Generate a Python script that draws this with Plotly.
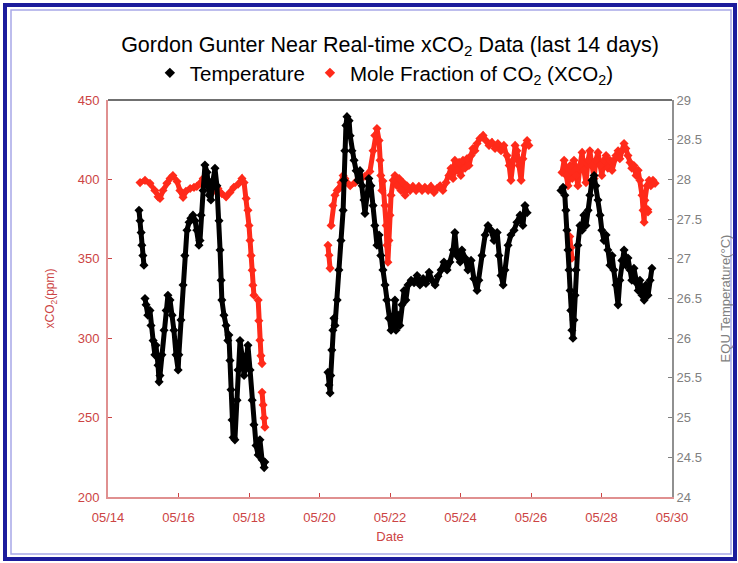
import plotly.graph_objects as go
from datetime import datetime, timedelta

# ---------------- data (day of May, fractional) ----------------
temp_day = [
    14.88, 14.91, 14.94, 14.96, 14.99, 15.02, None,
    15.05, 15.08, 15.13, 15.19, 15.22, 15.28, 15.33, 15.36, 15.42, 15.45, 15.475, 15.53, 15.59, 15.65,
    15.70, 15.76, 15.82, 15.87, 15.93, 15.99, 16.01, 16.07, 16.13, 16.18, 16.24, 16.30, 16.35, 16.41,
    16.47, 16.52, 16.58, 16.61, 16.64, 16.70, 16.75, 16.81, 16.87, 16.92, 16.98, 17.035, 17.09, 17.15,
    17.18, 17.21, 17.23, 17.29, 17.35, 17.40, 17.43, 17.46, 17.49, 17.52, 17.55, 17.60, 17.66, 17.69,
    17.745, 17.80, 17.86, 17.92, 17.97, 18.03, 18.09, 18.14, 18.20, 18.26, 18.31, 18.37, 18.43, 18.45, None,
    20.24, 20.27, 20.30, 20.32, 20.35, 20.38, 20.41, 20.44, 20.50, 20.55, 20.61, 20.67, 20.69, 20.72,
    20.75, 20.78, 20.84, 20.87, 20.92, 20.98, 21.04, 21.09, 21.15, 21.21, 21.26, 21.29, 21.35, 21.40,
    21.46, 21.52, 21.57, 21.63, 21.69, 21.74, 21.80, 21.86, 21.91, 21.97, 22.03, 22.09, 22.14, 22.17,
    22.23, 22.28, 22.34, 22.40, 22.45, 22.51, 22.60, 22.68, 22.77, 22.85, 22.94, 23.02, 23.11, 23.19,
    23.28, 23.36, 23.45, 23.53, 23.62, 23.70, 23.79, 23.84, 23.90, 23.99, 24.04, 24.13, 24.21, 24.30,
    24.38, 24.47, 24.52, 24.61, 24.70, 24.78, 24.87, 24.95, 25.04, 25.09, 25.15, 25.21, 25.26, 25.35,
    25.43, 25.52, 25.60, 25.69, 25.77, 25.83, 25.89, None,
    26.85, 26.91, 26.96, 26.99, 27.02, 27.05, 27.08, 27.11, 27.13, 27.16, 27.19, 27.22, 27.25, 27.28,
    27.33, 27.39, 27.45, 27.50, 27.56, 27.62, 27.67, 27.73, 27.79, 27.84, 27.90, 27.96, 28.01, 28.07,
    28.13, 28.18, 28.24, 28.30, 28.35, 28.41, 28.47, 28.52, 28.58, 28.64, 28.69, 28.75, 28.81, 28.86,
    28.92, 28.98, 29.04, 29.09, 29.15, 29.21, 29.26, 29.32, 29.38, 29.43,
]
temp_val = [
    27.61, 27.48, 27.33, 27.17, 27.04, 26.92, None,
    26.50, 26.42, 26.29, 26.35, 26.16, 25.97, 25.79, 25.91, 25.66, 25.45, 25.53, 25.79, 26.10, 26.35,
    26.54, 26.48, 26.29, 26.10, 25.79, 25.60, 25.79, 26.23, 26.67, 27.04, 27.36, 27.46, 27.51, 27.55,
    27.48, 27.36, 27.17, 27.23, 27.55, 27.86, 28.18, 28.09, 27.80, 27.74, 27.99, 28.14, 27.92, 27.48,
    27.11, 26.73, 26.48, 26.29, 26.16, 25.97, 26.04, 25.72, 25.35, 24.97, 24.75, 24.72, 25.22, 25.60,
    25.97, 25.79, 25.53, 25.72, 25.91, 25.60, 25.22, 24.91, 24.65, 24.53, 24.72, 24.47, 24.37, 24.44, None,
    25.57, 25.41, 25.31, 25.53, 25.85, 26.10, 26.25, 26.16, 26.48, 26.86, 27.23, 27.61, 27.99, 28.36,
    28.68, 28.79, 28.74, 28.55, 28.36, 28.24, 28.11, 27.99, 28.11, 27.92, 27.74, 27.57, 27.80, 28.01,
    27.92, 27.67, 27.42, 27.17, 27.30, 27.04, 26.86, 26.67, 26.48, 26.25, 26.10, 26.20, 26.48, 26.10,
    26.29, 26.16, 26.42, 26.60, 26.48, 26.67, 26.73, 26.70, 26.79, 26.67, 26.75, 26.69, 26.83, 26.73,
    26.67, 26.78, 26.86, 26.96, 26.86, 26.96, 27.11, 27.33, 27.04, 26.96, 27.11, 27.01, 26.86, 26.98,
    26.75, 26.60, 26.73, 27.04, 27.30, 27.42, 27.36, 27.23, 27.33, 27.04, 26.79, 26.67, 26.86, 27.17,
    27.30, 27.36, 27.46, 27.55, 27.42, 27.67, 27.58, None,
    27.86, 27.90, 27.80, 27.61, 27.36, 27.11, 26.86, 26.60, 26.35, 26.10, 26.00, 26.23, 26.54, 26.86,
    27.17, 27.42, 27.36, 27.55, 27.42, 27.61, 27.80, 27.99, 28.05, 27.92, 27.74, 27.55, 27.36, 27.23,
    27.30, 27.11, 26.92, 27.04, 26.86, 26.67, 26.42, 26.73, 26.98, 27.11, 26.92, 27.01, 26.86, 26.73,
    26.88, 26.70, 26.60, 26.73, 26.54, 26.48, 26.67, 26.54, 26.73, 26.88,
]

co2_day = [
    14.91, 15.05, 15.19, 15.33, 15.42, 15.475, 15.56, 15.67, 15.76, 15.84, 15.96, 16.04, 16.13, 16.21,
    16.33, 16.44, 16.52, 16.61, 16.70, 16.78, 16.89, 17.01, 17.12, 17.23, 17.35, 17.46, 17.57, 17.69,
    17.80, 17.86, 17.92, 17.97, 18.00, 18.03, 18.06, 18.09, 18.11, 18.14, None,
    18.26, 18.28, 18.31, 18.34, 18.37, None,
    18.37, 18.40, 18.43, 18.45, None,
    20.24, 20.27, 20.30, None,
    20.33, 20.38, 20.44, 20.50, 20.55, 20.61, 20.67, 20.72, 20.87, 21.01, 21.15, 21.29, 21.43,
    21.52, 21.57, 21.63, 21.69, 21.72, 21.74, 21.77, 21.80, 21.86, 21.89, 21.91, 21.94, 21.97, 22.00,
    22.03, 22.09, 22.14, 22.20, 22.26, 22.31, 22.37, 22.43, 22.48, 22.57, 22.65, 22.74, 22.82, 22.91,
    22.99, 23.08, 23.16, 23.25, 23.33, 23.42, 23.50, 23.59, 23.67, 23.73, 23.79, 23.84, 23.90, 23.96,
    24.01, 24.07, 24.13, 24.18, 24.24, 24.30, 24.35, 24.41, 24.47, 24.55, 24.64, 24.72, 24.81, 24.89,
    24.98, 25.06, 25.15, 25.23, 25.32, 25.38, 25.43, 25.49, 25.55, 25.60, 25.66, 25.72, 25.77, 25.83,
    25.89, 25.94, None,
    27.10, 27.13, 27.16, None,
    26.88, 26.94, 27.00, 27.05, 27.11, 27.17, 27.22, 27.28, 27.33, 27.39, 27.45, 27.50, 27.56, 27.62,
    27.67, 27.73, 27.79, 27.84, 27.90, 27.96, 28.01, 28.07, 28.13, 28.18, 28.24, 28.30, 28.35, 28.41,
    28.47, 28.52, 28.58, 28.64, 28.69, 28.75, 28.81, 28.86, 28.92, 28.98, 29.04, 29.09, 29.15, 29.18,
    29.21, 29.23, 29.29, 29.35, 29.40, 29.46, 29.52, None,
    29.31, 29.32,
]
co2_val = [
    398.0, 399.4, 397.5, 393.0, 389.0, 388.0, 393.0, 397.5, 400.6, 402.5, 398.7, 393.0, 388.7, 392.5,
    394.3, 395.0, 395.6, 397.5, 400.6, 399.4, 395.6, 393.0, 394.3, 391.0, 389.0, 391.8, 395.0, 396.9,
    400.6, 398.0, 388.0, 380.5, 371.0, 361.6, 352.0, 342.8, 333.3, 327.0, None,
    324.0, 311.0, 298.7, 289.0, 284.0, None,
    266.0, 258.0, 249.7, 244.0, None,
    358.5, 352.2, 344.0, None,
    371.0, 383.6, 390.0, 393.0, 394.3, 398.0, 402.5, 400.6, 396.0, 398.0, 400.0, 402.0, 405.0,
    418.0, 427.7, 432.0, 424.5, 412.0, 402.5, 393.0, 399.0, 383.6, 371.0, 358.5, 347.8, 361.6, 377.4,
    390.0, 399.4, 402.5, 396.0, 400.6, 393.0, 398.0, 390.0, 396.0, 393.0, 395.6, 393.0, 395.6, 393.0,
    395.0, 393.0, 395.6, 391.8, 394.3, 396.0, 393.0, 398.0, 402.5, 407.0, 400.6, 412.0, 405.7, 410.7,
    402.5, 412.0, 407.0, 413.0, 408.8, 415.0, 419.5, 418.0, 422.6, 425.8, 427.7, 424.5, 421.4, 423.3,
    419.5, 422.6, 418.0, 421.4, 415.0, 408.8, 399.4, 412.0, 421.4, 418.0, 408.8, 399.4, 413.0, 421.4,
    424.5, 421.4, None,
    364.0, 357.0, 350.3, None,
    404.4, 412.0, 402.5, 396.0, 408.8, 400.6, 412.0, 402.5, 396.0, 408.8, 417.0, 405.7, 398.0, 412.0,
    418.0, 408.8, 400.6, 412.0, 417.0, 408.8, 402.5, 412.0, 415.0, 407.0, 412.0, 405.7, 412.0, 415.0,
    418.0, 413.0, 418.0, 422.6, 419.5, 415.0, 410.7, 407.0, 408.8, 402.5, 405.7, 399.4, 390.0, 380.5,
    373.0, 386.8, 396.0, 399.4, 396.0, 399.4, 397.5, None,
    381.0, 379.5,
]

x_ticks = ["05/14", "05/16", "05/18", "05/20", "05/22", "05/24", "05/26", "05/28", "05/30"]

# ---------------- helpers ----------------
BASE = datetime(2011, 5, 1)


def to_dt(days):
    return [None if d is None else BASE + timedelta(days=d - 1) for d in days]


RED = "#ff2a1a"
AXRED = "#cc4444"
FONT = "Liberation Sans Narrow, Arial Narrow, Liberation Sans, Arial, sans-serif"

fig = go.Figure()

fig.add_trace(go.Scatter(
    x=to_dt(co2_day), y=co2_val, mode="lines+markers", yaxis="y",
    line=dict(color=RED, width=5), marker=dict(symbol="diamond", size=7, color=RED),
    showlegend=False, connectgaps=False, hoverinfo="skip"))
fig.add_trace(go.Scatter(
    x=to_dt(temp_day), y=temp_val, mode="lines+markers", yaxis="y2",
    line=dict(color="black", width=5), marker=dict(symbol="diamond", size=7, color="black"),
    showlegend=False, connectgaps=False, hoverinfo="skip"))

# legend-only entries
fig.add_trace(go.Scatter(x=[None], y=[None], mode="markers", name="Temperature",
                         marker=dict(symbol="diamond", size=8, color="black")))
fig.add_trace(go.Scatter(x=[None], y=[None], mode="markers",
                         name="Mole Fraction of CO<sub>2</sub> (XCO<sub>2</sub>)",
                         marker=dict(symbol="diamond", size=8, color=RED)))

tickvals = [BASE + timedelta(days=13 + 2 * i) for i in range(len(x_ticks))]

fig.update_layout(
    width=738, height=563,
    margin=dict(l=108, r=66, t=100, b=66, autoexpand=False),
    paper_bgcolor="white", plot_bgcolor="white",
    font=dict(family=FONT, color="black"),
    title=dict(text="Gordon Gunter Near Real-time xCO<sub>2</sub> Data (last 14 days)",
               xref="paper", x=0.5, xanchor="center", y=1 - 44 / 563, yanchor="middle",
               font=dict(size=21.5, color="black", family=FONT)),
    legend=dict(orientation="h", x=0.49, xanchor="center", y=1 + 27 / 397, yanchor="middle",
                font=dict(size=20.5, color="black", family=FONT), bgcolor="rgba(0,0,0,0)",
                itemwidth=30),
    xaxis=dict(type="date", range=[BASE + timedelta(days=13), BASE + timedelta(days=29)],
               tickvals=tickvals, ticktext=x_ticks, ticks="inside", ticklen=4,
               tickcolor=AXRED, tickfont=dict(size=13, color=AXRED), ticklabelstandoff=7,
               showline=True, linecolor="#e09090", linewidth=2, showgrid=False, zeroline=False,
               title=dict(text="Date", font=dict(size=13, color=AXRED), standoff=8)),
    yaxis=dict(range=[200, 450], dtick=50, ticks="inside", ticklen=4, tickcolor=AXRED,
               tickfont=dict(size=13, color=AXRED), ticklabelstandoff=4,
               showline=True, linecolor="#e09090",
               linewidth=2, showgrid=False, zeroline=False,
               title=dict(text="xCO<sub>2</sub>(ppm)", font=dict(size=12, color=AXRED), standoff=20)),
    yaxis2=dict(range=[24, 29], dtick=0.5, overlaying="y", side="right", ticks="inside",
                ticklen=4, tickcolor="#808080", tickfont=dict(size=13, color="#808080"),
                showline=True, linecolor="#909090", linewidth=2, showgrid=False, zeroline=False,
                title=dict(text="EQU Temperature(°C)", font=dict(size=13, color="#808080"),
                           standoff=20)),
    shapes=[
        # top frame line
        dict(type="line", xref="paper", yref="paper", x0=0, x1=1, y0=1, y1=1,
             line=dict(color="#707070", width=2)),
        # outer blue border
        dict(type="rect", xref="paper", yref="paper",
             x0=(5 - 108) / 564, x1=(735 - 108) / 564,
             y0=(497 - 559) / 397, y1=(497 - 5) / 397,
             line=dict(color="#1c1c9c", width=4)),
        # inner light border
        dict(type="rect", xref="paper", yref="paper",
             x0=(11 - 108) / 564, x1=(731 - 108) / 564,
             y0=(497 - 554) / 397, y1=(497 - 10) / 397,
             line=dict(color="#a8a8e8", width=1.5)),
    ],
)

fig.write_html("out.html", config={"displayModeBar": False},
               post_script="document.body.style.margin='0px';")
